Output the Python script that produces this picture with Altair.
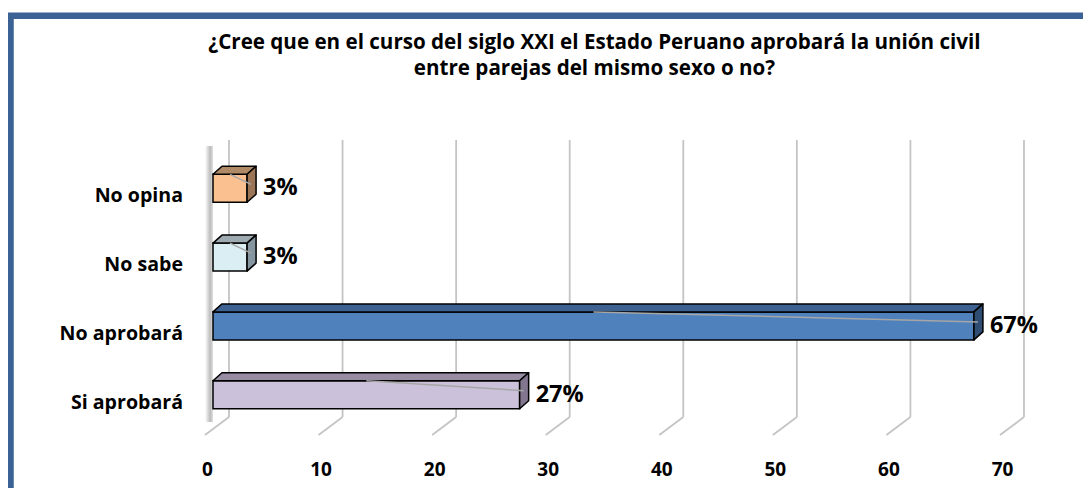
import altair as alt
import pandas as pd

# ---- data ----
categories = ["No opina", "No sabe", "No aprobará", "Si aprobará"]
values = [3, 3, 67, 27]
value_labels = ["3%", "3%", "67%", "27%"]
front_colors = ["#FAC090", "#DAEEF3", "#4F81BD", "#CCC1DA"]
top_colors = ["#B08967", "#9DAAB0", "#3D6191", "#978CA2"]
side_colors = ["#9C7556", "#8596A0", "#2F4D73", "#82778F"]
ticks = [0, 10, 20, 30, 40, 50, 60, 70]
title_lines = [
    "¿Cree que en el curso del siglo XXI el Estado Peruano aprobará la unión civil",
    "entre parejas del mismo sexo o no?",
]

# ---- geometry / style constants ----
W, H = 795, 300
XMAX = 70
PX_X = W / XMAX            # px per unit on x
Y_DOMAIN = [-0.658, 3.702]
PX_Y = H / (Y_DOMAIN[1] - Y_DOMAIN[0])
BAR_H = 28 / PX_Y          # front face height in y units
DX = 9 / PX_X              # depth offsets
DY = 8 / PX_Y
FONT = "Open Sans"

n = len(categories)
pos = [n - 1 - i for i in range(n)]

bars = pd.DataFrame({
    "cat": categories, "val": values, "pos": pos, "lab": value_labels,
    "front": front_colors, "topc": top_colors, "sidec": side_colors,
})
bars["zero"] = 0.0
bars["y_lo"] = bars["pos"] - BAR_H / 2
bars["y_hi"] = bars["pos"] + BAR_H / 2
bars["half"] = bars["val"] / 2

top_rows, side_rows = [], []
for r in bars.to_dict("records"):
    top_rows.append({"cat": r["cat"], "c": r["topc"], "y": r["y_hi"], "x": 0.0, "x2": r["val"]})
    top_rows.append({"cat": r["cat"], "c": r["topc"], "y": r["y_hi"] + DY, "x": DX, "x2": r["val"] + DX})
    side_rows.append({"cat": r["cat"], "c": r["sidec"], "x": r["val"], "y": r["y_lo"], "y2": r["y_hi"]})
    side_rows.append({"cat": r["cat"], "c": r["sidec"], "x": r["val"] + DX, "y": r["y_lo"] + DY, "y2": r["y_hi"] + DY})
top_df = pd.DataFrame(top_rows)
side_df = pd.DataFrame(side_rows)
tick_df = pd.DataFrame({"t": ticks})

xs = alt.Scale(domain=[0, XMAX], nice=False, zero=False)
ys = alt.Scale(domain=Y_DOMAIN, nice=False, zero=False)
xaxis = alt.Axis(values=ticks, labelOffset=-6, labelFontSize=19, labelFont=FONT,
                 labelFontWeight="bold", labelColor="black", domain=False,
                 ticks=False, grid=False, labelPadding=20, title=None,
                 labelFlush=False, labelOverlap=False, labelBound=False)

# frame
frame = alt.Chart(pd.DataFrame({"k": [0]})).mark_rect(
    fill="transparent", stroke="#3A6294", strokeWidth=6.5
).encode(x=alt.value(-202.5), x2=alt.value(1200), y=alt.value(-124.2), y2=alt.value(800))

# left wall shadow
shadow = alt.Chart(pd.DataFrame({"k": [0]})).mark_rect(
    fill=alt.Gradient(gradient="linear", x1=0, x2=1, y1=0, y2=0,
                      stops=[alt.GradientStop(color="#ffffff", offset=0),
                             alt.GradientStop(color="#bcbcbc", offset=0.65),
                             alt.GradientStop(color="#e0e0e0", offset=1)])
).encode(x=alt.value(-8), x2=alt.value(0), y=alt.value(6), y2=alt.value(282))

# gridlines (back wall + floor diagonal)
grid_v = alt.Chart(tick_df).mark_rule(color="#C4C4C4", strokeWidth=1.8, xOffset=16).encode(
    x=alt.X("t:Q", scale=xs, axis=xaxis), y=alt.value(0), y2=alt.value(277))
grid_d = alt.Chart(tick_df).mark_rule(color="#C4C4C4", strokeWidth=1.8, xOffset=16, x2Offset=-8).encode(
    x=alt.X("t:Q", scale=xs, axis=xaxis), x2="t:Q", y=alt.value(277), y2=alt.value(295))

# bar faces
front = alt.Chart(bars).mark_rect(stroke="black", strokeWidth=1.5).encode(
    x=alt.X("zero:Q", scale=xs, axis=xaxis), x2="val:Q",
    y=alt.Y("y_lo:Q", scale=ys, axis=None), y2="y_hi:Q",
    fill=alt.Fill("front:N", scale=None))
top = alt.Chart(top_df).mark_area(orient="horizontal", stroke="black", strokeWidth=1.5,
                                  strokeJoin="round").encode(
    y=alt.Y("y:Q", scale=ys, axis=None),
    x=alt.X("x:Q", scale=xs, axis=xaxis), x2="x2:Q",
    detail="cat:N", fill=alt.Fill("c:N", scale=None))
side = alt.Chart(side_df).mark_area(orient="vertical", stroke="black", strokeWidth=1.5,
                                    strokeJoin="round").encode(
    x=alt.X("x:Q", scale=xs, axis=xaxis),
    y=alt.Y("y:Q", scale=ys, axis=None), y2="y2:Q",
    detail="cat:N", fill=alt.Fill("c:N", scale=None))

# leader lines
leader = alt.Chart(bars).mark_rule(color="#A6A6A6", strokeWidth=1.5, x2Offset=4, y2Offset=-4).encode(
    x=alt.X("half:Q", scale=xs, axis=xaxis), x2="val:Q",
    y=alt.Y("y_hi:Q", scale=ys, axis=None), y2="pos:Q")

# value labels
vlabels = alt.Chart(bars).mark_text(align="left", baseline="middle", dx=16, dy=0,
                                    font=FONT, fontWeight="bold", fontSize=23.5, color="black").encode(
    x=alt.X("val:Q", scale=xs, axis=xaxis), y=alt.Y("pos:Q", scale=ys, axis=None), text="lab:N")

# category labels
clabels = alt.Chart(bars).mark_text(align="right", baseline="middle", dy=8,
                                    font=FONT, fontWeight="bold", fontSize=19.6, color="black").encode(
    x=alt.value(-30), y=alt.Y("pos:Q", scale=ys, axis=None), text="cat:N")

# title
title = alt.Chart(pd.DataFrame({"k": [0]})).mark_text(
    align="center", baseline="middle", font=FONT, fontWeight="bold", fontSize=20.6,
    lineHeight=25.5, color="black").encode(
    x=alt.value(381.5), y=alt.value(-97), text=alt.value(title_lines))

chart = alt.layer(frame, shadow, grid_v, grid_d, front, top, side, leader, vlabels, clabels, title).properties(
    width=W, height=H,
    autosize=alt.AutoSizeParams(type="none"),
    padding={"left": 205, "top": 132, "right": 75, "bottom": 48},
    background="white",
).configure_view(stroke=None)

chart.save("out.html", embed_options={"renderer": "svg", "actions": False})
